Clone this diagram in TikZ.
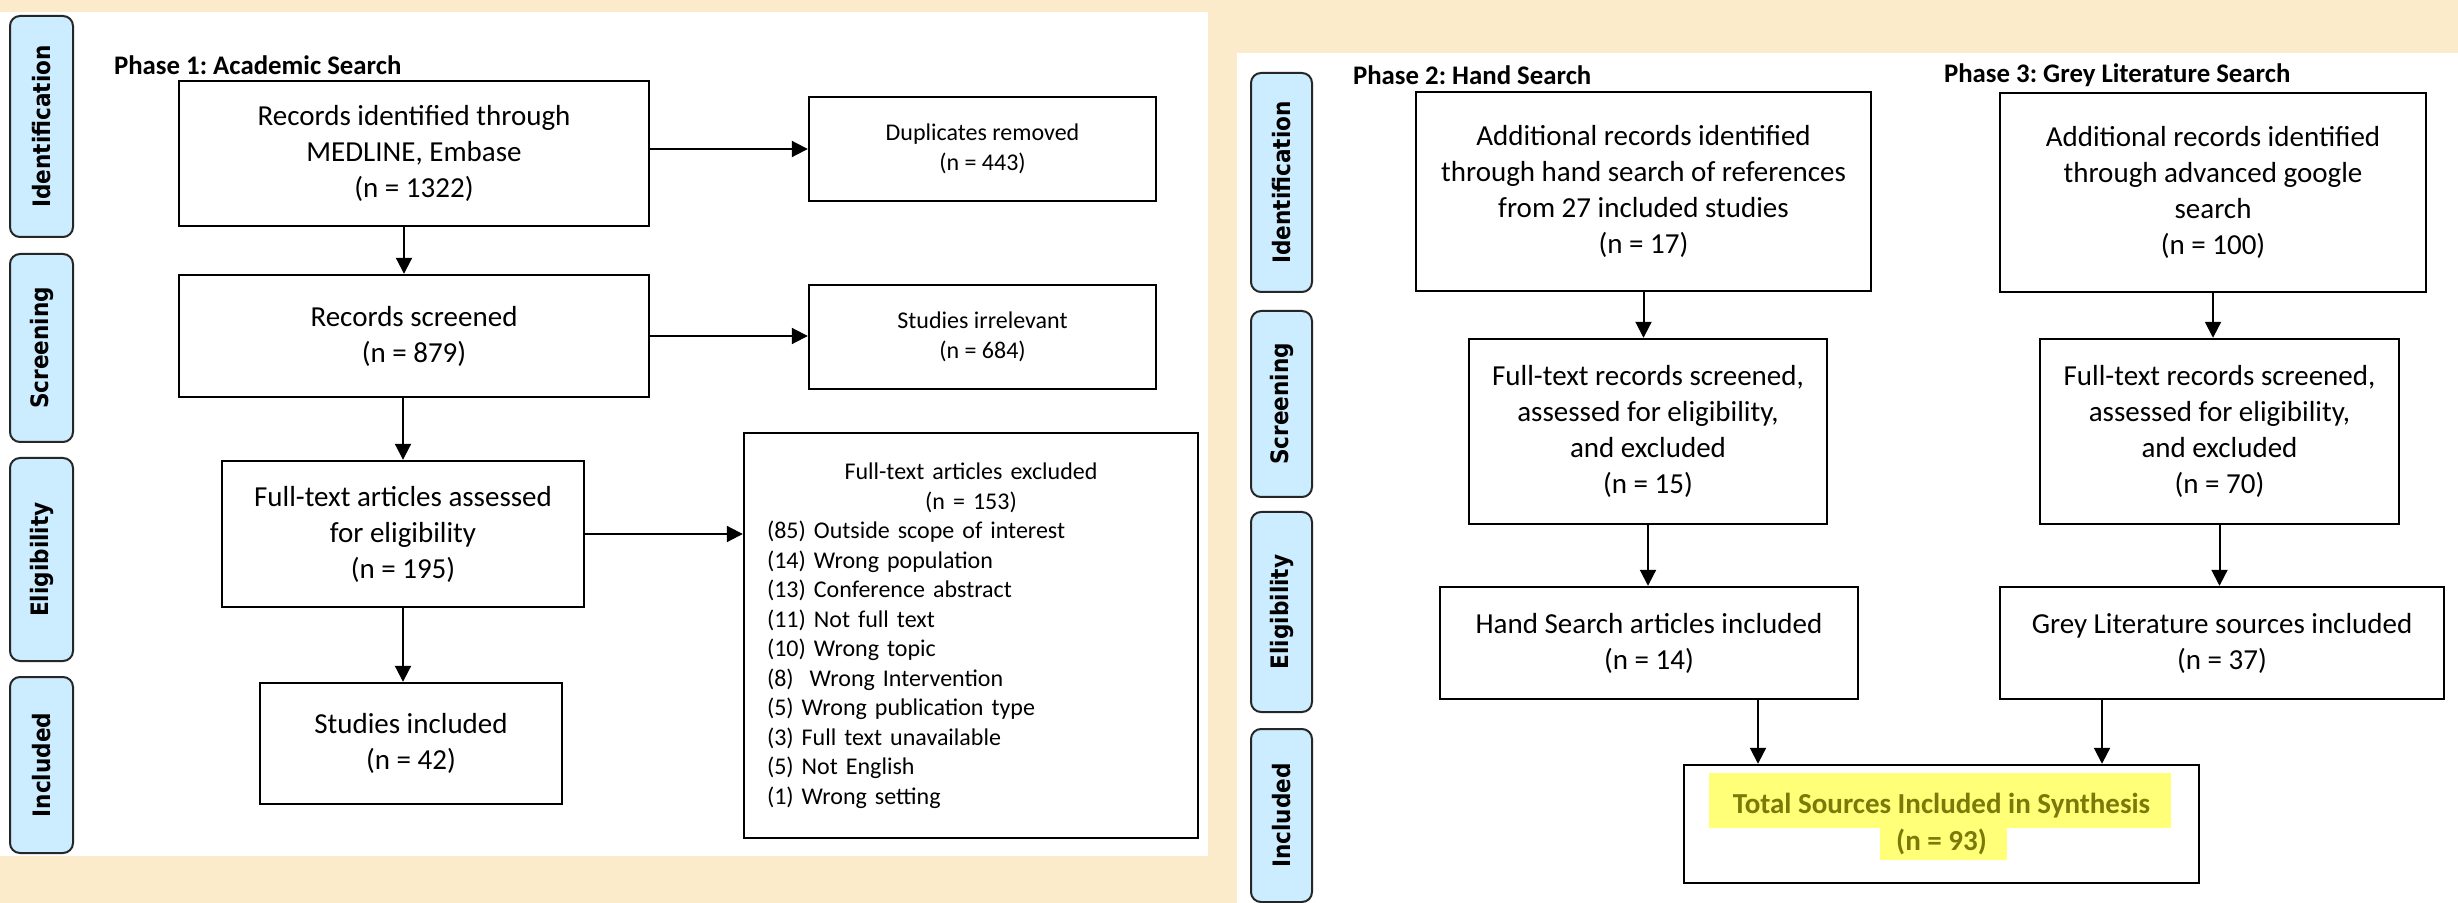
\documentclass[tikz,border=0pt]{standalone}
\usepackage{fontspec}
\setmainfont{Carlito}
\newfontfamily\lanefont{DejaVu Sans}[FakeStretch=0.9]
\usetikzlibrary{arrows.meta}
\definecolor{parchment}{RGB}{251,235,203}
\definecolor{lane-blue}{RGB}{204,236,255}
\definecolor{olive-text}{RGB}{122,122,10}
\definecolor{marker}{RGB}{255,255,120}
\frenchspacing

\begin{document}
\begin{tikzpicture}[x=0.5pt,y=-0.5pt,
	box/.style={draw=black,line width=1.2pt,align=center,inner sep=0pt,font=\fontsize{14.5}{18}\selectfont},
	sidebox/.style={box,font=\fontsize{12}{15}\selectfont},
	lane/.style={draw=black!85,line width=1pt,fill=lane-blue,rounded corners=5pt,rotate=90,inner sep=0pt,font=\lanefont\bfseries\fontsize{12}{13}\selectfont},
	phasetitle/.style={anchor=west,font=\bfseries\fontsize{13.4}{16}\selectfont},
	arr/.style={line width=1pt,-{Triangle[length=8pt,width=8pt]}}]
	\useasboundingbox (0,0) rectangle (2458,903);
	\fill[parchment] (0,0) rectangle (2458,903);								% page background
	\fill[white] (0,12) rectangle (1208,856);									% phase 1 panel
	\fill[white] (1237,53) rectangle (2458,903);								% phase 2/3 panel
	\foreach \lab/\yc/\len [count=\i] in {Identification/126.5/110.5pt,Screening/348/94pt,Eligibility/559.5/101.5pt,Included/765/88pt}{	% left lanes
		\node[lane,minimum width=\len,minimum height=31.5pt] (lane-l\i) at (41.5,\yc) {\lab};
	}
	\foreach \lab/\yc/\len [count=\i] in {Identification/182.5/109.5pt,Screening/404/93pt,Eligibility/612/100pt,Included/815.5/86.5pt}{	% right lanes
		\node[lane,minimum width=\len,minimum height=30.5pt] (lane-r\i) at (1281.5,\yc) {\lab};
	}
	\node[phasetitle] (ph1) at (107,65) {Phase 1: Academic Search};
	\node[phasetitle] (ph2) at (1346,75) {Phase 2: Hand Search};
	\node[phasetitle] (ph3) at (1937,75) {Phase 3: Grey Literature Search};
	% phase 1
	\node[box,minimum width=235pt,minimum height=72.5pt] (ident) at (414,153.5) {Records identified through\\MEDLINE, Embase\\(n = 1322)};
	\node[sidebox,minimum width=173.5pt,minimum height=52pt] (dup) at (982.5,149) {Duplicates removed\\(n = 443)};
	\node[box,minimum width=235pt,minimum height=61pt] (screen) at (414,336) {Records screened\\(n = 879)};
	\node[sidebox,minimum width=173.5pt,minimum height=52pt] (irrel) at (982.5,337) {Studies irrelevant\\(n = 684)};
	\node[box,minimum width=181pt,minimum height=73pt] (fulltext) at (403,534) {Full-text articles assessed\\for eligibility\\(n = 195)};
	\node[box,minimum width=151pt,minimum height=60.5pt] (incl) at (411,743.5) {Studies included\\(n = 42)};
	\node[sidebox,minimum height=202.5pt,text width=204pt,align=left,inner xsep=11.5pt,font=\fontsize{12}{14.75}\selectfont] (excl) at (971,635.5) {\centering Full-text articles excluded\\(n = 153)\par
		\raggedright (85) Outside scope of interest\\(14) Wrong population\\(13) Conference abstract\\(11) Not full text\\(10) Wrong topic\\(8)\ \ Wrong Intervention\\(5) Wrong publication type\\(3) Full text unavailable\\(5) Not English\\(1) Wrong setting\par};
	% phase 2 and 3
	\node[box,minimum width=227.5pt,minimum height=99.5pt] (handid) at (1643.5,191.5) {Additional records identified\\through hand search of references\\from 27 included studies\\(n = 17)};
	\node[box,minimum width=213pt,minimum height=99.5pt] (greyid) at (2213,192.5) {Additional records identified\\through advanced google\\search\\(n = 100)};
	\node[box,minimum width=179pt,minimum height=92.5pt] (handscr) at (1648,431.5) {Full-text records screened,\\assessed for eligibility,\\and excluded\\(n = 15)};
	\node[box,minimum width=179.5pt,minimum height=92.5pt] (greyscr) at (2219.5,431.5) {Full-text records screened,\\assessed for eligibility,\\and excluded\\(n = 70)};
	\node[box,minimum width=209pt,minimum height=56pt] (handinc) at (1649,643) {Hand Search articles included\\(n = 14)};
	\node[box,minimum width=222pt,minimum height=56pt] (greyinc) at (2222,643) {Grey Literature sources included\\(n = 37)};
	\fill[marker] (1709,773) rectangle (2171,828);								% highlighter
	\fill[marker] (1880,813) rectangle (2007,860);
	\node[box,minimum width=257.5pt,minimum height=59pt,text=olive-text,font=\bfseries\fontsize{14.5}{18.5}\selectfont] (total) at (1941.5,824) {Total Sources Included in Synthesis\\(n = 93)};
	% connectors
	\draw[arr] (ident.east |- dup.west) -- (dup.west);
	\draw[arr] ([xshift=-5pt]ident.south) -- ([xshift=-5pt]ident.south |- screen.north);
	\draw[arr] (screen.east) -- (screen.east -| irrel.west);
	\draw[arr] (fulltext.north |- screen.south) -- (fulltext.north);
	\draw[arr] (fulltext.east) -- (fulltext.east -| excl.west);
	\draw[arr] (fulltext.south) -- (fulltext.south |- incl.north);
	\draw[arr] (handid.south) -- (handid.south |- handscr.north);
	\draw[arr] (greyid.south) -- (greyid.south |- greyscr.north);
	\draw[arr] (handscr.south) -- (handscr.south |- handinc.north);
	\draw[arr] (greyscr.south) -- (greyscr.south |- greyinc.north);
	\path (handinc.south) ++(109,0) coordinate (hk);
	\path (greyinc.south) ++(-120,0) coordinate (gk);
	\draw[arr] (hk) -- (hk |- total.north);
	\draw[arr] (gk) -- (gk |- total.north);
\end{tikzpicture}
\end{document}
